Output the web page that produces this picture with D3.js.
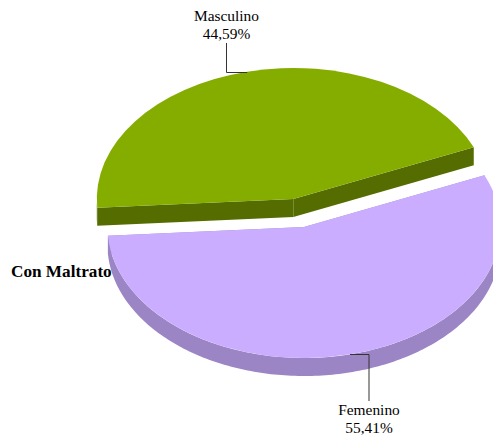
<!DOCTYPE html>
<html>
<head>
<meta charset="utf-8">
<script src="https://cdn.jsdelivr.net/npm/d3@7"></script>
<style>
body { margin: 0; background: #fff; }
svg { display: block; }
text { font-family: "Liberation Serif", serif; fill: #000; }
</style>
</head>
<body>
<div id="chart"></div>
<script>
var categories = ["Femenino", "Masculino"]
var values = [55.41, 44.59]
var seriesName = "Con Maltrato"
var topColors = ["#cbadff", "#85ad00"]
var sideColors = ["#9c85c4", "#556c00"]

var WIDTH = 493
var HEIGHT = 438
var rx = 196.5
var ry = 131
var depth = 18
var firstAngle = 66.7 * Math.PI / 180
// the green slice stays at 293,199 and the purple one is pulled out of the pie
var centers = [[304, 227], [293.3, 199]]
// where each label sits, and the x of the leader line
var labelPos = [[369, 415], [226.5, 21]]
var lineStart = [401, 43]

var svg = d3.select("#chart").append("svg")
	.attr("width", WIDTH)
	.attr("height", HEIGHT)

var pie = d3.pie()
	.sort(null)
	.startAngle(firstAngle)
	.endAngle(firstAngle + 2 * Math.PI)

var arcs = pie(values)

var arc = d3.arc()
	.innerRadius(0)
	.outerRadius(rx)

var line = d3.line()

function rim(a, c) {
	return [c[0] + rx * Math.sin(a), c[1] - ry * Math.cos(a)]
}

// outer wall only shows on the front half of the ellipse
function outerWall(d, c) {
	var pts = []
	var step = Math.PI / 180
	for (var a = d.startAngle; a < d.endAngle; a += step) {
		if (Math.cos(a) < 0) pts.push(a)
	}
	if (Math.cos(d.endAngle) < 0) pts.push(d.endAngle)
	if (pts.length == 0) return null
	var top = pts.map(function(a) { return rim(a, c) })
	var bottom = top.map(function(p) { return [p[0], p[1] + depth] }).reverse()
	return line(top.concat(bottom)) + "Z"
}

function radialWall(a, c) {
	var p = rim(a, c)
	return line([c, p, [p[0], p[1] + depth], [c[0], c[1] + depth]]) + "Z"
}

var slices = svg.selectAll(".slice")
	.data(arcs)
	.enter()
	.append("g")
	.attr("class", "slice")

slices.each(function(d, i) {
	var g = d3.select(this)
	var c = centers[i]
	var walls = [radialWall(d.startAngle, c), radialWall(d.endAngle, c), outerWall(d, c)]
	for (var w in walls) {
		if (walls[w]) g.append("path").attr("d", walls[w]).attr("fill", sideColors[i])
	}
	g.append("path")
		.attr("d", arc(d))
		.attr("transform", "translate(" + c[0] + "," + c[1] + ") scale(1," + (ry / rx) + ")")
		.attr("fill", topColors[i])
})

// leader lines go from the middle of each slice's rim to the label
slices.each(function(d, i) {
	var mid = (d.startAngle + d.endAngle) / 2
	var p = rim(mid, centers[i])
	var y = Math.round(p[1]) + 0.5
	d3.select(this).append("path")
		.attr("d", line([[p[0], y], [labelPos[i][0], y], [labelPos[i][0], lineStart[i]]]))
		.attr("fill", "none")
		.attr("stroke", "#333")
		.attr("stroke-width", 1)
})

slices.each(function(d, i) {
	var g = d3.select(this)
	g.append("text")
		.attr("x", labelPos[i][0])
		.attr("y", labelPos[i][1])
		.attr("text-anchor", "middle")
		.attr("font-size", 15.4)
		.text(categories[i])
	g.append("text")
		.attr("x", labelPos[i][0])
		.attr("y", labelPos[i][1] + 18)
		.attr("text-anchor", "middle")
		.attr("font-size", 15.4)
		.text(d3.format(".2f")(d.value).replace(".", ",") + "%")
})

svg.append("text")
	.attr("x", 11)
	.attr("y", 277)
	.attr("font-size", 17.2)
	.attr("font-weight", "bold")
	.text(seriesName)
</script>
</body>
</html>
